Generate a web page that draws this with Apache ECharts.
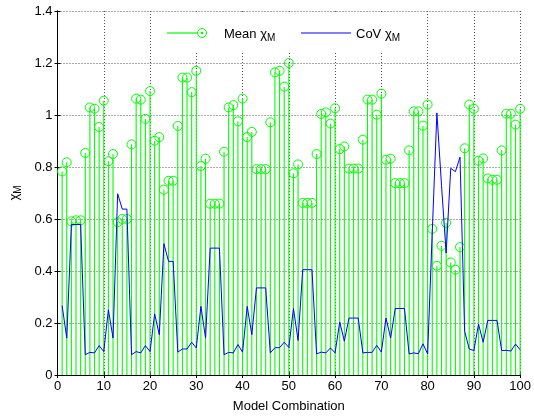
<!DOCTYPE html>
<html>
<head>
<meta charset="utf-8">
<script src="https://cdn.jsdelivr.net/npm/echarts@6/dist/echarts.min.js"></script>
<style>
html,body{margin:0;padding:0;background:#fff;}
#chart{width:534px;height:418px;}
</style>
</head>
<body>
<div id="chart"></div>
<script>
// ---- data ----
const modelIdx = [1,2,3,4,5,6,7,8,9,10,11,12,13,14,15,16,17,18,19,20,21,22,23,24,25,26,27,28,29,30,31,32,33,34,35,36,37,38,39,40,41,42,43,44,45,46,47,48,49,50,51,52,53,54,55,56,57,58,59,60,61,62,63,64,65,66,67,68,69,70,71,72,73,74,75,76,77,78,79,80,81,82,83,84,85,86,87,88,89,90,91,92,93,94,95,96,97,98,99,100];
const meanChi = [
0.783,0.818,0.591,0.595,0.595,0.854,1.029,1.024,0.954,1.055,
0.822,0.850,0.588,0.600,0.600,0.887,1.063,1.059,0.985,1.092,
0.901,0.915,0.713,0.747,0.747,0.958,1.144,1.144,1.088,1.170,
0.804,0.832,0.659,0.659,0.659,0.859,1.029,1.038,0.976,1.063,
0.915,0.935,0.792,0.792,0.792,0.972,1.164,1.170,1.109,1.200,
0.776,0.810,0.662,0.662,0.662,0.850,1.004,1.010,0.967,1.026,
0.869,0.879,0.794,0.794,0.794,0.905,1.059,1.059,1.001,1.082,
0.828,0.832,0.738,0.738,0.738,0.864,1.014,1.014,0.959,1.040,
0.562,0.420,0.497,0.585,0.433,0.405,0.492,0.872,1.040,1.024,
0.824,0.833,0.756,0.751,0.751,0.864,1.005,1.005,0.963,1.024];
const covChi = [
0.267,0.142,0.579,0.579,0.579,0.078,0.087,0.085,0.113,0.090,
0.251,0.142,0.697,0.638,0.638,0.078,0.090,0.085,0.113,0.090,
0.235,0.155,0.505,0.437,0.437,0.088,0.100,0.100,0.126,0.104,
0.264,0.142,0.488,0.488,0.488,0.078,0.087,0.085,0.117,0.088,
0.264,0.155,0.335,0.335,0.335,0.085,0.105,0.105,0.126,0.106,
0.256,0.133,0.405,0.405,0.405,0.081,0.088,0.085,0.104,0.085,
0.204,0.130,0.219,0.219,0.219,0.085,0.087,0.087,0.114,0.088,
0.219,0.142,0.256,0.256,0.256,0.081,0.085,0.082,0.120,0.081,
0.550,1.008,0.730,0.469,0.795,0.782,0.838,0.168,0.100,0.094,
0.196,0.126,0.210,0.210,0.210,0.094,0.095,0.092,0.119,0.097];
const xTicks = {min: 0, max: 100, interval: 10};
const yTicks = {min: 0, max: 1.4, interval: 0.2};
const seriesNames = ['Mean', 'CoV'];
const xTitle = 'Model Combination';

// ---- chart ----
const FONT = 'Liberation Sans, Arial, sans-serif';
const chart = echarts.init(document.getElementById('chart'), null, {renderer: 'canvas'});
const meanData = modelIdx.map((x, i) => [x, meanChi[i]]);
const covData = modelIdx.map((x, i) => [x, covChi[i]]);
const gridLine = {show: true, lineStyle: {color: '#555', type: [1, 2], width: 1}};
const tick = {show: true, inside: true, length: 3, lineStyle: {color: '#000'}};
const axLine = {show: true, lineStyle: {color: '#000', width: 1}};
const richChi = {
  a: {fontFamily: FONT, fontSize: 13, color: '#000'},
  b: {fontFamily: FONT, fontSize: 10, color: '#000', padding: [8, 0, 0, 0]}
};

chart.setOption({
  animation: false,
  backgroundColor: '#fff',
  grid: {left: 54, right: 10, top: 11, bottom: 43, containLabel: false},
  xAxis: [
    {type: 'value', min: xTicks.min, max: xTicks.max, interval: xTicks.interval, position: 'bottom',
     axisLine: axLine, axisTick: tick, splitLine: gridLine,
     axisLabel: {color: '#000', fontFamily: FONT, fontSize: 13, margin: 5},
     name: xTitle, nameLocation: 'middle', nameGap: 25,
     nameTextStyle: {color: '#000', fontFamily: FONT, fontSize: 13}},
    {type: 'value', min: xTicks.min, max: xTicks.max, interval: xTicks.interval, position: 'top',
     axisLine: axLine, axisTick: tick, splitLine: {show: false}, axisLabel: {show: false}}
  ],
  yAxis: [
    {type: 'value', min: yTicks.min, max: yTicks.max, interval: yTicks.interval, position: 'left',
     axisLine: axLine, axisTick: tick, splitLine: gridLine,
     axisLabel: {color: '#000', fontFamily: FONT, fontSize: 13, margin: 5},
     name: '{a|χ}{b|M}', nameLocation: 'middle', nameGap: 34, nameRotate: 90,
     nameTextStyle: {rich: richChi}},
    {type: 'value', min: yTicks.min, max: yTicks.max, interval: yTicks.interval, position: 'right',
     axisLine: axLine, axisTick: tick, splitLine: {show: false}, axisLabel: {show: false}}
  ],
  series: [
    {
      name: seriesNames[0] + ' stems', type: 'custom', z: 2,
      data: meanData, encode: {x: 0, y: 1},
      renderItem: function (params, api) {
        const p0 = api.coord([api.value(0), 0]);
        const p1 = api.coord([api.value(0), api.value(1)]);
        return {type: 'line', shape: {x1: p0[0], y1: p0[1], x2: p1[0], y2: p1[1]},
                style: {stroke: '#00ff00', lineWidth: 1.1}};
      }
    },
    {
      name: seriesNames[0], type: 'scatter', z: 3, data: meanData,
      symbol: 'circle', symbolSize: 9,
      itemStyle: {color: 'rgba(0,0,0,0)', borderColor: '#00ff00', borderWidth: 1, opacity: 1}
    },
    {
      name: seriesNames[1], type: 'line', z: 4, data: covData,
      showSymbol: false, symbol: 'none',
      lineStyle: {color: '#0000ff', width: 1}
    }
  ],
  graphic: [
    {type: 'rect', z: 50, shape: {x: 155, y: 12, width: 265, height: 41}, style: {fill: '#fff'}},
    {type: 'line', z: 51, shape: {x1: 167, y1: 33, x2: 197.5, y2: 33}, style: {stroke: '#00ff00', lineWidth: 1.2}},
    {type: 'circle', z: 51, shape: {cx: 202, cy: 33, r: 4.5}, style: {stroke: '#00ff00', fill: null, lineWidth: 1}},
    {type: 'circle', z: 51, shape: {cx: 202, cy: 33, r: 1.3}, style: {fill: '#00ff00'}},
    {type: 'text', z: 51, x: 224, y: 34,
     style: {text: '{a|' + seriesNames[0] + ' χ}{b|M}', rich: richChi, verticalAlign: 'middle', align: 'left'}},
    {type: 'line', z: 51, shape: {x1: 301, y1: 33, x2: 351, y2: 33}, style: {stroke: '#0000ff', lineWidth: 1}},
    {type: 'text', z: 51, x: 356, y: 34,
     style: {text: '{a|' + seriesNames[1] + ' χ}{b|M}', rich: richChi, verticalAlign: 'middle', align: 'left'}}
  ]
});
</script>
</body>
</html>
